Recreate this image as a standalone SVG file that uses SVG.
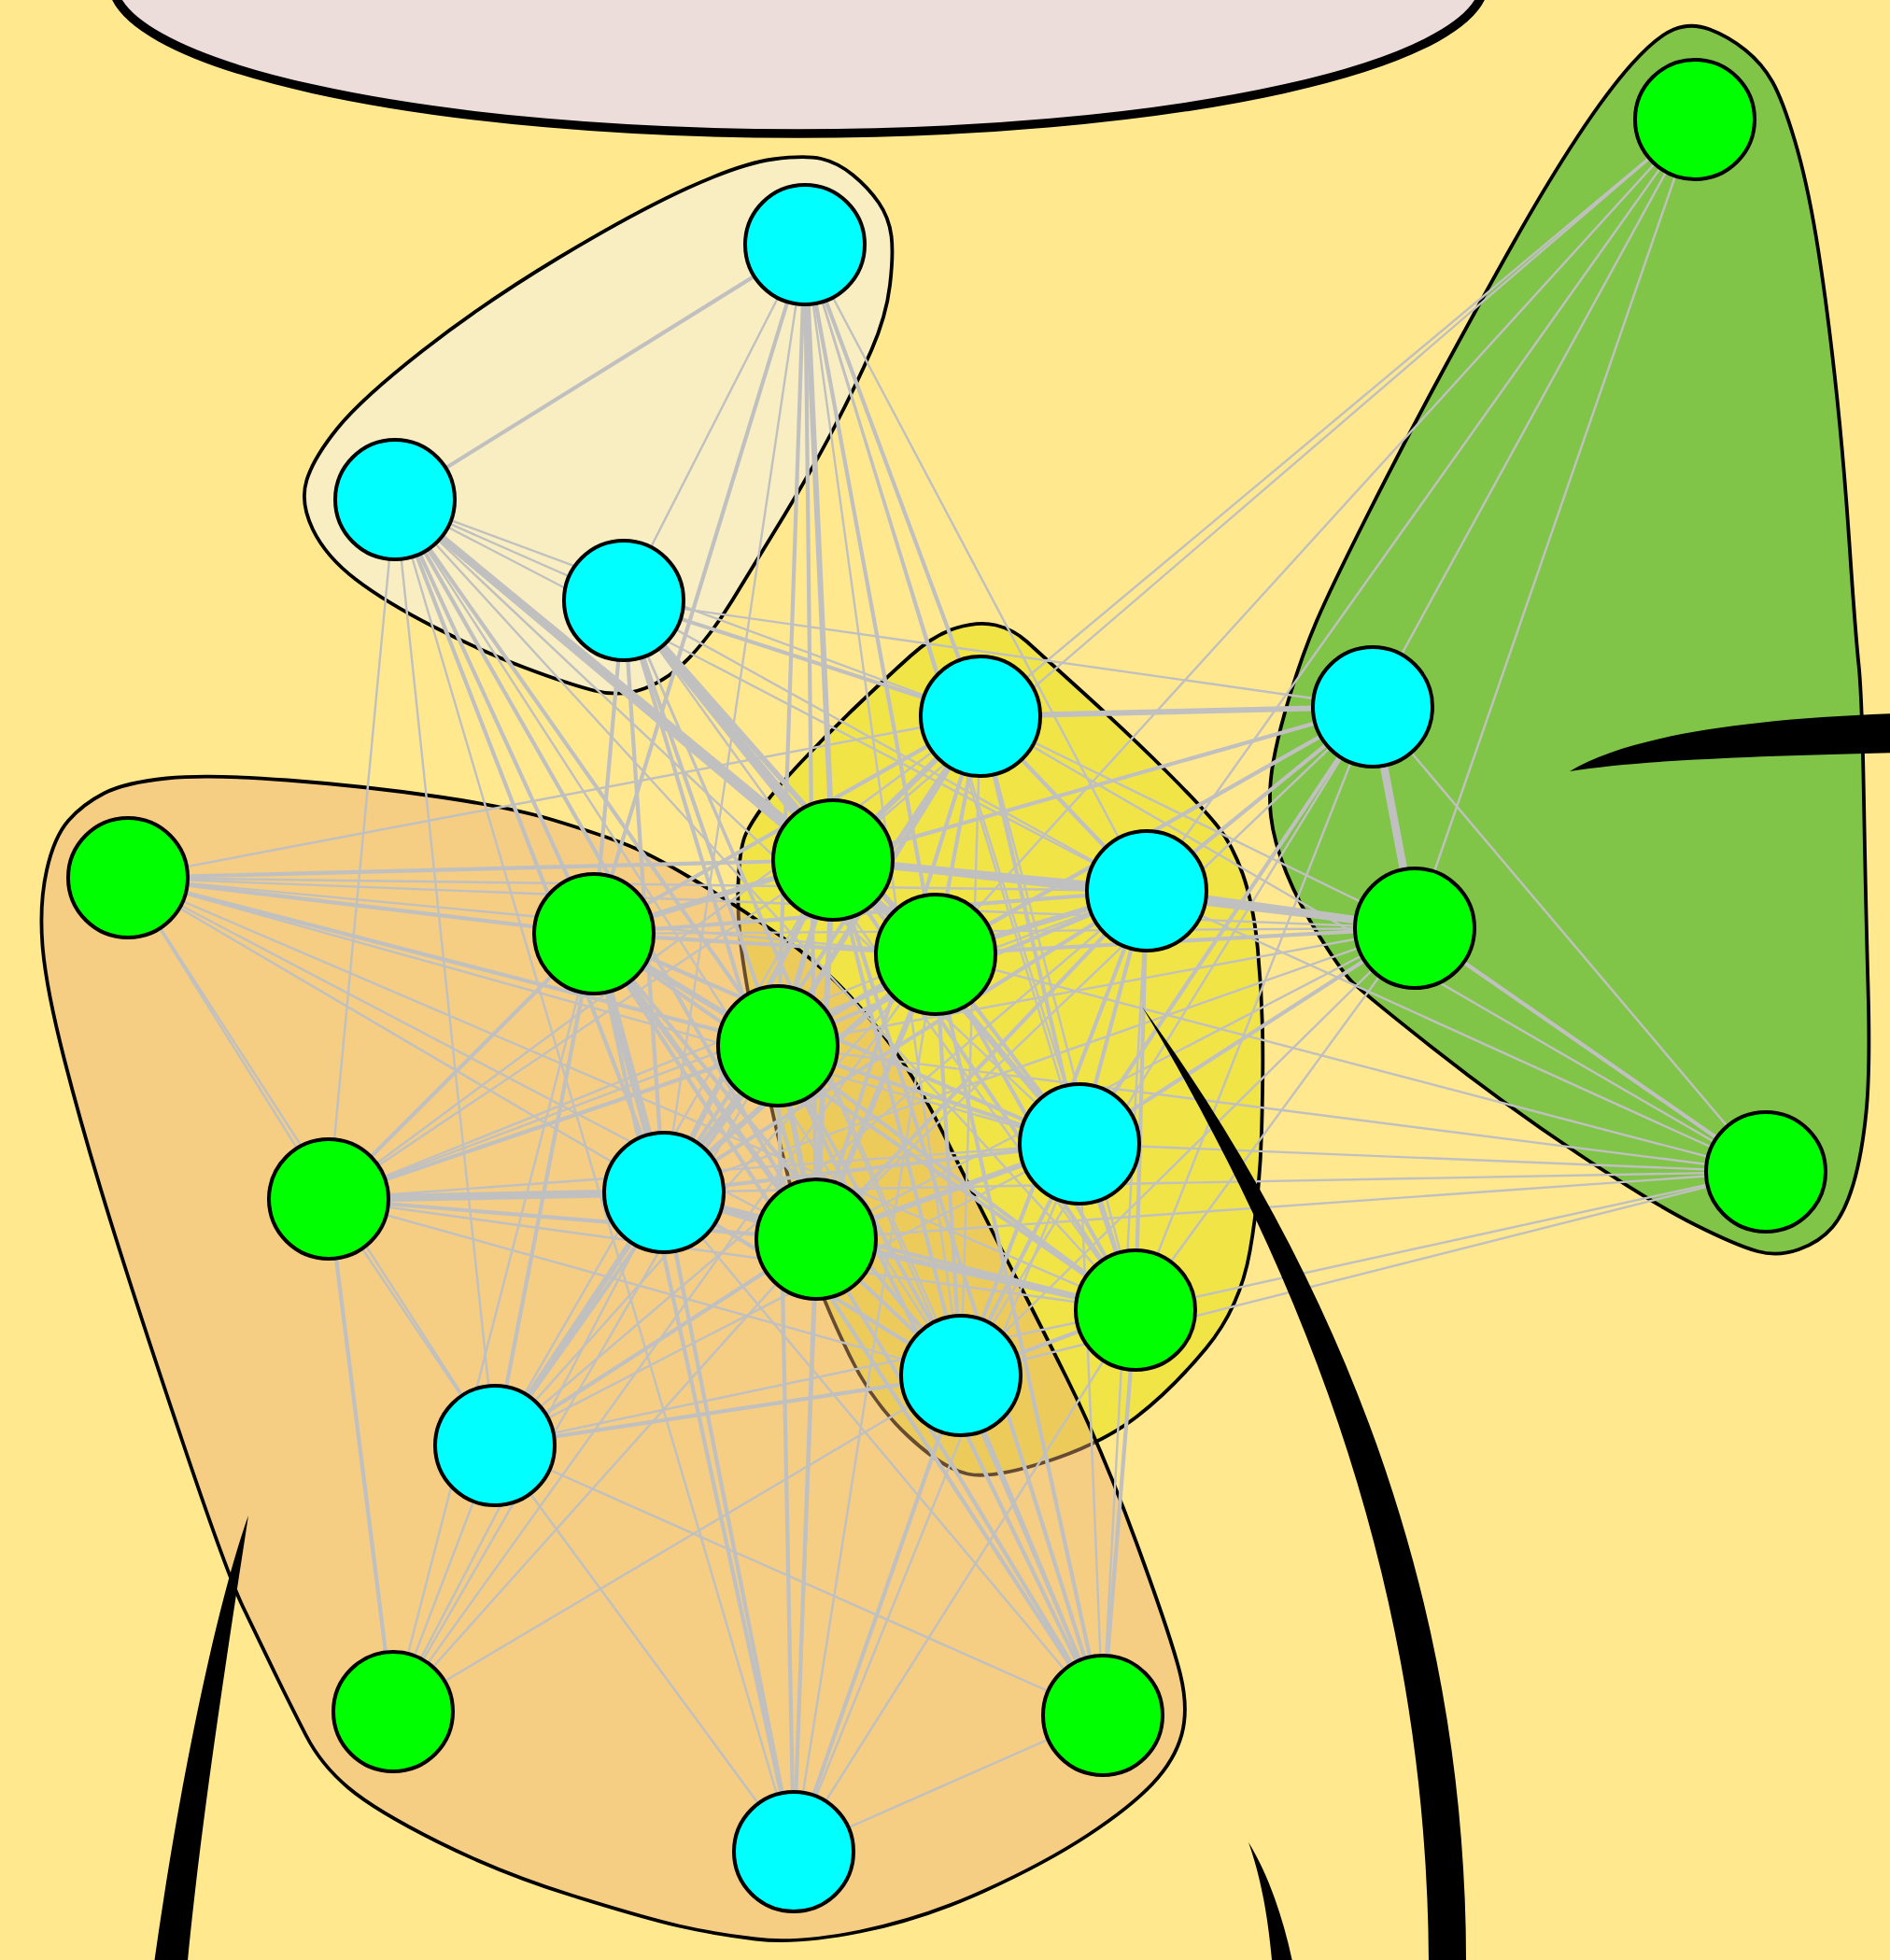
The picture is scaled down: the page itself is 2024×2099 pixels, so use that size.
<svg xmlns="http://www.w3.org/2000/svg" width="2024" height="2099" viewBox="0 0 2024 2099">
<style>
.hull{stroke:#000;stroke-width:3.8;stroke-linejoin:round}
.edges line{stroke:#c0c0c0;stroke-linecap:round}
.e1{stroke-width:2.4}
.e2{stroke-width:4.2}
.e3{stroke-width:6}
.e4{stroke-width:8.5}
.g{fill:#00ff00;stroke:#000;stroke-width:4}
.c{fill:#00ffff;stroke:#000;stroke-width:4}
.sw{fill:#000}
</style>
<rect x="0" y="0" width="2024" height="2099" fill="#ffe88e"/>
<g id="top-ellipse"><ellipse cx="855" cy="-20" rx="735" ry="163" fill="#ecdcda" stroke="#000" stroke-width="9.5"/></g>
<g id="hulls">
<path id="hull-pale" class="hull" fill="#f8eec1" d="M 828 170.5 Q 862 166 879.5 170 Q 897 174 913.5 187.5 Q 930 201 941 217 Q 952 233 954.5 252.5 Q 957 272 953 305.5 Q 949 339 933 375.5 Q 917 412 894.5 455.5 Q 872 499 839.5 552.5 Q 807 606 784.5 642.5 Q 762 679 739.5 703 Q 717 727 691 737 Q 665 747 636 739.5 Q 607 732 562 715 Q 517 698 465 671.5 Q 413 645 381 620.5 Q 349 596 335 567 Q 321 538 328.5 514 Q 336 490 361.5 458.5 Q 387 427 452 376 Q 517 325 597.5 276.5 Q 678 228 736 201.5 Q 794 175 828 170.5 Z"/>
<path id="hull-yellow" class="hull" fill="#f0e446" d="M 1024 672.5 Q 1048 665 1066.5 669.5 Q 1085 674 1099.5 687 Q 1114 700 1163 744.5 Q 1212 789 1250 827 Q 1288 865 1304 885 Q 1320 905 1331 936.5 Q 1342 968 1346.5 1012.5 Q 1351 1057 1352 1101.5 Q 1353 1146 1351 1213 Q 1349 1280 1338.5 1340 Q 1328 1400 1291.5 1444 Q 1255 1488 1217.5 1517 Q 1180 1546 1121.5 1565 Q 1063 1584 1036.5 1578.5 Q 1010 1573 972 1537.5 Q 934 1502 909.5 1451 Q 885 1400 876 1373.5 Q 867 1347 854.5 1300.5 Q 842 1254 832 1211.5 Q 822 1169 809 1104 Q 796 1039 792.5 1003.5 Q 789 968 791 936.5 Q 793 905 799 892.5 Q 805 880 817.5 863 Q 830 846 858 816 Q 886 786 918 755.5 Q 950 725 975 702.5 Q 1000 680 1024 672.5 Z"/>
<path id="hull-green" class="hull" fill="#80c548" d="M 1792.5 31.5 Q 1811 24 1831 31.5 Q 1851 39 1869 53.5 Q 1887 68 1898 87.5 Q 1909 107 1922 150.5 Q 1935 194 1945 254.5 Q 1955 315 1964.5 400 Q 1974 485 1980.5 582 Q 1987 679 1990.5 712 Q 1994 745 1996 856.5 Q 1998 968 2000.5 1057 Q 2003 1146 1998.5 1191 Q 1994 1236 1985 1267 Q 1976 1298 1962.5 1314 Q 1949 1330 1926.5 1338 Q 1904 1346 1882 1340 Q 1860 1334 1815 1311.5 Q 1770 1289 1690 1235.5 Q 1610 1182 1534 1122 Q 1458 1062 1447 1050.5 Q 1436 1039 1413.5 1003.5 Q 1391 968 1377.5 934.5 Q 1364 901 1361 874 Q 1358 847 1363.5 816 Q 1369 785 1382 742.5 Q 1395 700 1410 665 Q 1425 630 1464 552.5 Q 1503 475 1545 397.5 Q 1587 320 1622.5 257 Q 1658 194 1690 145.5 Q 1722 97 1748 68 Q 1774 39 1792.5 31.5 Z"/>
<path id="hull-orange" class="hull" fill="#e8ab77" fill-opacity="0.44" d="M 111.5 849.5 Q 134 838 178.5 833.5 Q 223 829 308 835.5 Q 393 842 471 853.5 Q 549 865 593.5 878.5 Q 638 892 667 903 Q 696 914 741 941 Q 786 968 831 999 Q 876 1030 909.5 1066 Q 943 1102 965.5 1135.5 Q 988 1169 1010 1213.5 Q 1032 1258 1054.5 1302.5 Q 1077 1347 1090.5 1373 Q 1104 1399 1142 1475 Q 1180 1551 1217.5 1653.5 Q 1255 1756 1264 1793 Q 1273 1830 1265.5 1857.5 Q 1258 1885 1234.5 1910 Q 1211 1935 1165.5 1965 Q 1120 1995 1054 2025 Q 988 2055 921 2068.5 Q 854 2082 809 2076.5 Q 764 2071 727 2062.5 Q 690 2054 613 2030 Q 536 2006 469 1972.5 Q 402 1939 373 1914.5 Q 344 1890 328 1859 Q 312 1828 294.5 1792 Q 277 1756 260 1720.5 Q 243 1685 195 1542.5 Q 147 1400 118 1306.5 Q 89 1213 69 1135 Q 49 1057 45.5 1012.5 Q 42 968 50 932 Q 58 896 73.5 878.5 Q 89 861 111.5 849.5 Z"/>
</g>
<g id="connectors" class="edges">
<line class="e1" x1="1815" y1="128" x2="1050" y2="767"/>
<line class="e1" x1="1815" y1="128" x2="892" y2="921"/>
<line class="e1" x1="1815" y1="128" x2="1002" y2="1022"/>
<line class="e1" x1="1815" y1="128" x2="1228" y2="954"/>
<line class="e1" x1="1815" y1="128" x2="1470" y2="757"/>
<line class="e1" x1="1815" y1="128" x2="1515" y2="994"/>
<line class="e2" x1="862" y1="262" x2="423" y2="535"/>
<line class="e1" x1="862" y1="262" x2="668" y2="643"/>
<line class="e3" x1="862" y1="262" x2="892" y2="921"/>
<line class="e2" x1="862" y1="262" x2="1050" y2="767"/>
<line class="e2" x1="862" y1="262" x2="1002" y2="1022"/>
<line class="e2" x1="862" y1="262" x2="636" y2="1000"/>
<line class="e2" x1="862" y1="262" x2="833" y2="1120"/>
<line class="e1" x1="862" y1="262" x2="1228" y2="954"/>
<line class="e1" x1="862" y1="262" x2="1156" y2="1225"/>
<line class="e2" x1="862" y1="262" x2="874" y2="1327"/>
<line class="e1" x1="862" y1="262" x2="711" y2="1277"/>
<line class="e1" x1="862" y1="262" x2="1029" y2="1473"/>
<line class="e1" x1="862" y1="262" x2="1216" y2="1403"/>
<line class="e1" x1="423" y1="535" x2="668" y2="643"/>
<line class="e4" x1="423" y1="535" x2="892" y2="921"/>
<line class="e3" x1="423" y1="535" x2="1002" y2="1022"/>
<line class="e2" x1="423" y1="535" x2="833" y2="1120"/>
<line class="e2" x1="423" y1="535" x2="636" y2="1000"/>
<line class="e2" x1="423" y1="535" x2="711" y2="1277"/>
<line class="e2" x1="423" y1="535" x2="874" y2="1327"/>
<line class="e1" x1="423" y1="535" x2="1050" y2="767"/>
<line class="e1" x1="423" y1="535" x2="1228" y2="954"/>
<line class="e1" x1="423" y1="535" x2="1156" y2="1225"/>
<line class="e1" x1="423" y1="535" x2="352" y2="1284"/>
<line class="e1" x1="423" y1="535" x2="1216" y2="1403"/>
<line class="e1" x1="423" y1="535" x2="1029" y2="1473"/>
<line class="e1" x1="423" y1="535" x2="850" y2="1983"/>
<line class="e1" x1="423" y1="535" x2="530" y2="1548"/>
<line class="e4" x1="668" y1="643" x2="892" y2="921"/>
<line class="e3" x1="668" y1="643" x2="1002" y2="1022"/>
<line class="e2" x1="668" y1="643" x2="1050" y2="767"/>
<line class="e2" x1="668" y1="643" x2="833" y2="1120"/>
<line class="e1" x1="668" y1="643" x2="1228" y2="954"/>
<line class="e2" x1="668" y1="643" x2="636" y2="1000"/>
<line class="e2" x1="668" y1="643" x2="711" y2="1277"/>
<line class="e2" x1="668" y1="643" x2="874" y2="1327"/>
<line class="e2" x1="668" y1="643" x2="1156" y2="1225"/>
<line class="e1" x1="668" y1="643" x2="1216" y2="1403"/>
<line class="e1" x1="668" y1="643" x2="1029" y2="1473"/>
<line class="e1" x1="668" y1="643" x2="1470" y2="757"/>
<line class="e1" x1="668" y1="643" x2="1181" y2="1837"/>
<line class="e3" x1="1050" y1="767" x2="1470" y2="757"/>
<line class="e3" x1="1050" y1="767" x2="892" y2="921"/>
<line class="e2" x1="1050" y1="767" x2="1002" y2="1022"/>
<line class="e2" x1="1050" y1="767" x2="1228" y2="954"/>
<line class="e3" x1="1050" y1="767" x2="833" y2="1120"/>
<line class="e2" x1="1050" y1="767" x2="636" y2="1000"/>
<line class="e2" x1="1050" y1="767" x2="1156" y2="1225"/>
<line class="e2" x1="1050" y1="767" x2="711" y2="1277"/>
<line class="e2" x1="1050" y1="767" x2="874" y2="1327"/>
<line class="e1" x1="1050" y1="767" x2="1216" y2="1403"/>
<line class="e1" x1="1050" y1="767" x2="1029" y2="1473"/>
<line class="e1" x1="1050" y1="767" x2="1515" y2="994"/>
<line class="e1" x1="1050" y1="767" x2="137" y2="940"/>
<line class="e1" x1="1050" y1="767" x2="1891" y2="1255"/>
<line class="e1" x1="1050" y1="767" x2="352" y2="1284"/>
<line class="e3" x1="892" y1="921" x2="1002" y2="1022"/>
<line class="e4" x1="892" y1="921" x2="1228" y2="954"/>
<line class="e3" x1="892" y1="921" x2="833" y2="1120"/>
<line class="e3" x1="892" y1="921" x2="636" y2="1000"/>
<line class="e3" x1="892" y1="921" x2="711" y2="1277"/>
<line class="e3" x1="892" y1="921" x2="874" y2="1327"/>
<line class="e2" x1="892" y1="921" x2="1156" y2="1225"/>
<line class="e2" x1="892" y1="921" x2="1216" y2="1403"/>
<line class="e2" x1="892" y1="921" x2="1029" y2="1473"/>
<line class="e2" x1="892" y1="921" x2="1470" y2="757"/>
<line class="e2" x1="892" y1="921" x2="1515" y2="994"/>
<line class="e2" x1="892" y1="921" x2="137" y2="940"/>
<line class="e1" x1="892" y1="921" x2="352" y2="1284"/>
<line class="e1" x1="892" y1="921" x2="530" y2="1548"/>
<line class="e1" x1="892" y1="921" x2="850" y2="1983"/>
<line class="e2" x1="892" y1="921" x2="1181" y2="1837"/>
<line class="e3" x1="636" y1="1000" x2="833" y2="1120"/>
<line class="e4" x1="636" y1="1000" x2="711" y2="1277"/>
<line class="e3" x1="636" y1="1000" x2="874" y2="1327"/>
<line class="e2" x1="636" y1="1000" x2="1002" y2="1022"/>
<line class="e2" x1="636" y1="1000" x2="1228" y2="954"/>
<line class="e2" x1="636" y1="1000" x2="1156" y2="1225"/>
<line class="e2" x1="636" y1="1000" x2="137" y2="940"/>
<line class="e2" x1="636" y1="1000" x2="352" y2="1284"/>
<line class="e2" x1="636" y1="1000" x2="1216" y2="1403"/>
<line class="e2" x1="636" y1="1000" x2="1029" y2="1473"/>
<line class="e2" x1="636" y1="1000" x2="530" y2="1548"/>
<line class="e2" x1="636" y1="1000" x2="850" y2="1983"/>
<line class="e2" x1="636" y1="1000" x2="1181" y2="1837"/>
<line class="e1" x1="636" y1="1000" x2="421" y2="1833"/>
<line class="e1" x1="636" y1="1000" x2="1515" y2="994"/>
<line class="e3" x1="1228" y1="954" x2="1002" y2="1022"/>
<line class="e2" x1="1228" y1="954" x2="833" y2="1120"/>
<line class="e2" x1="1228" y1="954" x2="1156" y2="1225"/>
<line class="e2" x1="1228" y1="954" x2="874" y2="1327"/>
<line class="e2" x1="1228" y1="954" x2="711" y2="1277"/>
<line class="e2" x1="1228" y1="954" x2="1216" y2="1403"/>
<line class="e2" x1="1228" y1="954" x2="1029" y2="1473"/>
<line class="e2" x1="1228" y1="954" x2="1470" y2="757"/>
<line class="e4" x1="1228" y1="954" x2="1515" y2="994"/>
<line class="e1" x1="1228" y1="954" x2="1891" y2="1255"/>
<line class="e1" x1="1228" y1="954" x2="137" y2="940"/>
<line class="e1" x1="1228" y1="954" x2="352" y2="1284"/>
<line class="e1" x1="1228" y1="954" x2="1181" y2="1837"/>
<line class="e1" x1="1228" y1="954" x2="530" y2="1548"/>
<line class="e3" x1="1002" y1="1022" x2="833" y2="1120"/>
<line class="e2" x1="1002" y1="1022" x2="1156" y2="1225"/>
<line class="e3" x1="1002" y1="1022" x2="874" y2="1327"/>
<line class="e3" x1="1002" y1="1022" x2="711" y2="1277"/>
<line class="e2" x1="1002" y1="1022" x2="1216" y2="1403"/>
<line class="e2" x1="1002" y1="1022" x2="1029" y2="1473"/>
<line class="e2" x1="1002" y1="1022" x2="1470" y2="757"/>
<line class="e2" x1="1002" y1="1022" x2="1515" y2="994"/>
<line class="e1" x1="1002" y1="1022" x2="352" y2="1284"/>
<line class="e1" x1="1002" y1="1022" x2="137" y2="940"/>
<line class="e1" x1="1002" y1="1022" x2="530" y2="1548"/>
<line class="e1" x1="1002" y1="1022" x2="850" y2="1983"/>
<line class="e1" x1="1002" y1="1022" x2="1891" y2="1255"/>
<line class="e2" x1="1002" y1="1022" x2="1181" y2="1837"/>
<line class="e1" x1="1002" y1="1022" x2="421" y2="1833"/>
<line class="e3" x1="833" y1="1120" x2="711" y2="1277"/>
<line class="e3" x1="833" y1="1120" x2="874" y2="1327"/>
<line class="e2" x1="833" y1="1120" x2="1156" y2="1225"/>
<line class="e2" x1="833" y1="1120" x2="1216" y2="1403"/>
<line class="e2" x1="833" y1="1120" x2="1029" y2="1473"/>
<line class="e2" x1="833" y1="1120" x2="352" y2="1284"/>
<line class="e2" x1="833" y1="1120" x2="530" y2="1548"/>
<line class="e2" x1="833" y1="1120" x2="137" y2="940"/>
<line class="e2" x1="833" y1="1120" x2="850" y2="1983"/>
<line class="e2" x1="833" y1="1120" x2="1181" y2="1837"/>
<line class="e1" x1="833" y1="1120" x2="421" y2="1833"/>
<line class="e1" x1="833" y1="1120" x2="1515" y2="994"/>
<line class="e1" x1="833" y1="1120" x2="1470" y2="757"/>
<line class="e1" x1="833" y1="1120" x2="1891" y2="1255"/>
<line class="e3" x1="1156" y1="1225" x2="874" y2="1327"/>
<line class="e2" x1="1156" y1="1225" x2="1216" y2="1403"/>
<line class="e2" x1="1156" y1="1225" x2="1029" y2="1473"/>
<line class="e2" x1="1156" y1="1225" x2="711" y2="1277"/>
<line class="e2" x1="1156" y1="1225" x2="1515" y2="994"/>
<line class="e2" x1="1156" y1="1225" x2="1470" y2="757"/>
<line class="e1" x1="1156" y1="1225" x2="352" y2="1284"/>
<line class="e1" x1="1156" y1="1225" x2="530" y2="1548"/>
<line class="e1" x1="1156" y1="1225" x2="1181" y2="1837"/>
<line class="e1" x1="1156" y1="1225" x2="850" y2="1983"/>
<line class="e1" x1="1156" y1="1225" x2="1891" y2="1255"/>
<line class="e1" x1="1156" y1="1225" x2="137" y2="940"/>
<line class="e3" x1="711" y1="1277" x2="874" y2="1327"/>
<line class="e4" x1="711" y1="1277" x2="352" y2="1284"/>
<line class="e3" x1="711" y1="1277" x2="530" y2="1548"/>
<line class="e2" x1="711" y1="1277" x2="1216" y2="1403"/>
<line class="e2" x1="711" y1="1277" x2="1029" y2="1473"/>
<line class="e1" x1="711" y1="1277" x2="421" y2="1833"/>
<line class="e2" x1="711" y1="1277" x2="850" y2="1983"/>
<line class="e1" x1="711" y1="1277" x2="1181" y2="1837"/>
<line class="e1" x1="711" y1="1277" x2="137" y2="940"/>
<line class="e1" x1="711" y1="1277" x2="1515" y2="994"/>
<line class="e1" x1="711" y1="1277" x2="1891" y2="1255"/>
<line class="e3" x1="874" y1="1327" x2="1216" y2="1403"/>
<line class="e2" x1="874" y1="1327" x2="1029" y2="1473"/>
<line class="e2" x1="874" y1="1327" x2="352" y2="1284"/>
<line class="e2" x1="874" y1="1327" x2="530" y2="1548"/>
<line class="e2" x1="874" y1="1327" x2="850" y2="1983"/>
<line class="e2" x1="874" y1="1327" x2="1181" y2="1837"/>
<line class="e1" x1="874" y1="1327" x2="421" y2="1833"/>
<line class="e1" x1="874" y1="1327" x2="1515" y2="994"/>
<line class="e1" x1="874" y1="1327" x2="1891" y2="1255"/>
<line class="e1" x1="874" y1="1327" x2="137" y2="940"/>
<line class="e1" x1="874" y1="1327" x2="1470" y2="757"/>
<line class="e2" x1="1216" y1="1403" x2="1029" y2="1473"/>
<line class="e2" x1="1216" y1="1403" x2="1181" y2="1837"/>
<line class="e1" x1="1216" y1="1403" x2="1515" y2="994"/>
<line class="e1" x1="1216" y1="1403" x2="1891" y2="1255"/>
<line class="e1" x1="1216" y1="1403" x2="352" y2="1284"/>
<line class="e1" x1="1216" y1="1403" x2="530" y2="1548"/>
<line class="e1" x1="1216" y1="1403" x2="850" y2="1983"/>
<line class="e1" x1="1216" y1="1403" x2="1470" y2="757"/>
<line class="e1" x1="1216" y1="1403" x2="137" y2="940"/>
<line class="e2" x1="1029" y1="1473" x2="1181" y2="1837"/>
<line class="e2" x1="1029" y1="1473" x2="850" y2="1983"/>
<line class="e1" x1="1029" y1="1473" x2="352" y2="1284"/>
<line class="e2" x1="1029" y1="1473" x2="530" y2="1548"/>
<line class="e1" x1="1029" y1="1473" x2="1515" y2="994"/>
<line class="e1" x1="1029" y1="1473" x2="1891" y2="1255"/>
<line class="e1" x1="1029" y1="1473" x2="421" y2="1833"/>
<line class="e1" x1="1029" y1="1473" x2="1470" y2="757"/>
<line class="e1" x1="352" y1="1284" x2="530" y2="1548"/>
<line class="e2" x1="352" y1="1284" x2="421" y2="1833"/>
<line class="e1" x1="352" y1="1284" x2="137" y2="940"/>
<line class="e1" x1="530" y1="1548" x2="421" y2="1833"/>
<line class="e1" x1="530" y1="1548" x2="850" y2="1983"/>
<line class="e1" x1="530" y1="1548" x2="1181" y2="1837"/>
<line class="e1" x1="530" y1="1548" x2="137" y2="940"/>
<line class="e1" x1="1181" y1="1837" x2="850" y2="1983"/>
<line class="e2" x1="1515" y1="994" x2="1891" y2="1255"/>
<line class="e4" x1="1470" y1="757" x2="1515" y2="994"/>
<line class="e1" x1="1470" y1="757" x2="1891" y2="1255"/>
<line class="e1" x1="137" y1="940" x2="1515" y2="994"/>
</g>
<g id="swooshes">
<path class="sw" d="M 1223 1078 C 1433 1428, 1530 1760, 1530 2110 L 1570 2110 C 1572 1760, 1465 1410, 1223 1078 Z"/>
<path class="sw" d="M 1681 826 C 1740 790, 1860 770, 2030 764 L 2030 806 C 1860 810, 1750 815, 1681 826 Z"/>
<path class="sw" d="M 266 1623 C 238 1700, 196 1880, 164 2110 L 200 2110 C 215 1950, 245 1760, 266 1623 Z"/>
<path class="sw" d="M 1337 1973 C 1350 2010, 1358 2050, 1363 2110 L 1386 2110 C 1376 2060, 1360 2010, 1337 1973 Z"/>
</g>
<g id="nodes">
<g id="nA"><circle class="g" cx="1815" cy="128" r="64"/></g>
<g id="nB"><circle class="c" cx="862" cy="262" r="64"/></g>
<g id="nC"><circle class="c" cx="423" cy="535" r="64"/></g>
<g id="nD"><circle class="c" cx="668" cy="643" r="64"/></g>
<g id="nE"><circle class="c" cx="1050" cy="767" r="64"/></g>
<g id="nF"><circle class="c" cx="1470" cy="757" r="64"/></g>
<g id="nG"><circle class="g" cx="137" cy="940" r="64"/></g>
<g id="nH"><circle class="g" cx="892" cy="921" r="64"/></g>
<g id="nI"><circle class="g" cx="636" cy="1000" r="64"/></g>
<g id="nJ"><circle class="c" cx="1228" cy="954" r="64"/></g>
<g id="nK"><circle class="g" cx="1002" cy="1022" r="64"/></g>
<g id="nL"><circle class="g" cx="1515" cy="994" r="64"/></g>
<g id="nM"><circle class="g" cx="833" cy="1120" r="64"/></g>
<g id="nN"><circle class="c" cx="1156" cy="1225" r="64"/></g>
<g id="nO"><circle class="g" cx="352" cy="1284" r="64"/></g>
<g id="nP"><circle class="c" cx="711" cy="1277" r="64"/></g>
<g id="nQ"><circle class="g" cx="874" cy="1327" r="64"/></g>
<g id="nR"><circle class="g" cx="1216" cy="1403" r="64"/></g>
<g id="nS"><circle class="g" cx="1891" cy="1255" r="64"/></g>
<g id="nT"><circle class="c" cx="1029" cy="1473" r="64"/></g>
<g id="nU"><circle class="c" cx="530" cy="1548" r="64"/></g>
<g id="nV"><circle class="g" cx="421" cy="1833" r="64"/></g>
<g id="nW"><circle class="g" cx="1181" cy="1837" r="64"/></g>
<g id="nX"><circle class="c" cx="850" cy="1983" r="64"/></g>
</g>
</svg>
